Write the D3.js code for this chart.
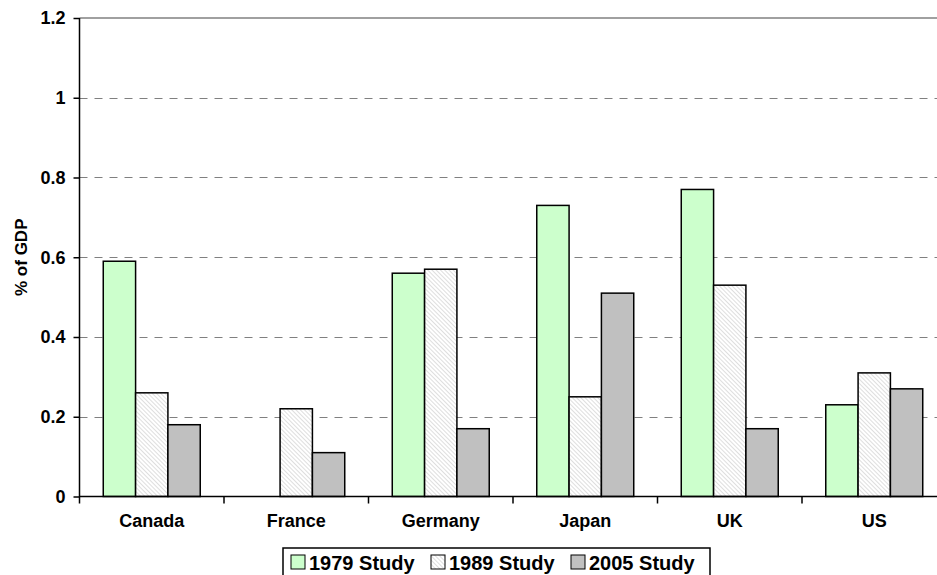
<!DOCTYPE html>
<html>
<head>
<meta charset="utf-8">
<script src="https://cdn.jsdelivr.net/npm/d3@7"></script>
<style>
  body { margin: 0; background: #fff; }
  svg { display: block; font-family: "Liberation Sans", Arial, sans-serif; font-weight: bold; }
</style>
</head>
<body>
<svg id="chart" width="937" height="575"></svg>
<script>
// data
const countries = ['Canada', 'France', 'Germany', 'Japan', 'UK', 'US'];
const studies = ['1979 Study', '1989 Study', '2005 Study'];
const study1979 = [0.59, null, 0.56, 0.73, 0.77, 0.23];
const study1989 = [0.26, 0.22, 0.57, 0.25, 0.53, 0.31];
const study2005 = [0.18, 0.11, 0.17, 0.51, 0.17, 0.27];
const yTicks = [0, 0.2, 0.4, 0.6, 0.8, 1, 1.2];

const series = [study1979, study1989, study2005];
const fills = ['#ccffcc', 'url(#hatch)', '#c0c0c0'];

const svg = d3.select('#chart');

// hatch for the 1989 bars
const pat = svg.append('defs').append('pattern')
    .attr('id', 'hatch')
    .attr('patternUnits', 'userSpaceOnUse')
    .attr('width', 3).attr('height', 3)
    .attr('patternTransform', 'rotate(-45)');
pat.append('rect').attr('width', 3).attr('height', 3).attr('fill', '#fff');
pat.append('line')
    .attr('x1', 0).attr('y1', 0).attr('x2', 0).attr('y2', 3)
    .attr('stroke', '#c4c4c4').attr('stroke-width', 1.1);

const pLeft = 79.5, pRight = 946.5, pTop = 18, pBottom = 496.5;

const x = d3.scaleBand().domain(countries).range([pLeft, pRight]);
const xi = d3.scaleBand().domain(d3.range(3)).range([0, x.bandwidth()]).paddingOuter(0.735);
const y = d3.scaleLinear().domain([0, 1.2]).range([pBottom, pTop]);

// grid
svg.append('g')
    .selectAll('line')
    .data(yTicks.filter(d => d > 0 && d < 1.2))
    .join('line')
    .attr('x1', pLeft).attr('x2', pRight)
    .attr('y1', d => Math.round(y(d)) + 0.5).attr('y2', d => Math.round(y(d)) + 0.5)
    .attr('stroke', '#808080')
    .attr('stroke-dasharray', '8,7');

svg.append('line')
    .attr('x1', pLeft).attr('x2', pRight)
    .attr('y1', y(1.2)).attr('y2', y(1.2))
    .attr('stroke', '#808080').attr('stroke-width', 1.5);

// bars
const rows = [];
countries.forEach((c, i) => {
    series.forEach((s, j) => {
        if (s[i] != null) rows.push({c, j, v: s[i]});
    });
});

svg.append('g')
    .selectAll('rect')
    .data(rows)
    .join('rect')
    .attr('x', d => x(d.c) + xi(d.j))
    .attr('width', xi.bandwidth())
    .attr('y', d => y(d.v))
    .attr('height', d => y(0) - y(d.v))
    .attr('fill', d => fills[d.j])
    .attr('stroke', '#000')
    .attr('stroke-width', 1.5);

// axes
const yAxis = svg.append('g')
    .attr('transform', `translate(${pLeft},0)`)
    .call(d3.axisLeft(y).tickValues(yTicks).tickSize(6).tickPadding(8).tickFormat(d3.format('')));
yAxis.select('.domain').attr('stroke', '#000').attr('stroke-width', 1.5).attr('d', `M0,${pTop}V${pBottom + 7}`);
yAxis.selectAll('line').attr('stroke-width', 1.5);
yAxis.selectAll('text').attr('font-size', 18).attr('font-weight', 'bold').attr('font-family', 'Liberation Sans, Arial, sans-serif').attr('fill', '#000');

const xAxis = svg.append('g')
    .attr('transform', `translate(0,${pBottom})`)
    .call(d3.axisBottom(x).tickSize(0).tickPadding(18));
xAxis.select('.domain').attr('stroke', '#000').attr('stroke-width', 1.5).attr('d', `M${pLeft},0H${pRight}`);
xAxis.selectAll('text').attr('font-size', 18).attr('font-weight', 'bold').attr('font-family', 'Liberation Sans, Arial, sans-serif').attr('fill', '#000');

// category boundary ticks
svg.append('g')
    .selectAll('line')
    .data(countries.slice(1).concat(['end']))
    .join('line')
    .attr('x1', d => d === 'end' ? pRight : x(d))
    .attr('x2', d => d === 'end' ? pRight : x(d))
    .attr('y1', pBottom).attr('y2', pBottom + 7)
    .attr('stroke', '#000').attr('stroke-width', 1.5);

// y title
svg.append('text')
    .attr('transform', `translate(27,${(pTop + pBottom) / 2}) rotate(-90)`)
    .attr('text-anchor', 'middle')
    .attr('font-size', 17)
    .text('% of GDP');

// legend
const lg = svg.append('g').attr('transform', 'translate(283,548)');
lg.append('rect')
    .attr('width', 427).attr('height', 32)
    .attr('fill', '#fff').attr('stroke', '#000').attr('stroke-width', 1.5);
const item = lg.selectAll('g.item')
    .data(studies)
    .join('g')
    .attr('class', 'item')
    .attr('transform', (d, i) => `translate(${8 + i * 140},0)`);
item.append('rect')
    .attr('y', 7).attr('width', 14).attr('height', 14)
    .attr('fill', (d, i) => fills[i])
    .attr('stroke', '#000');
item.append('text')
    .attr('x', 18).attr('y', 22)
    .attr('font-size', 20)
    .text(d => d);
</script>
</body>
</html>
